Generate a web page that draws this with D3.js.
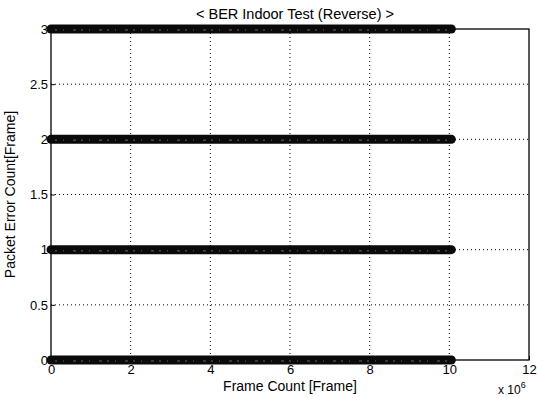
<!DOCTYPE html>
<html>
<head>
<meta charset="utf-8">
<script src="https://cdn.jsdelivr.net/npm/d3@7"></script>
<style>
  body { margin: 0; background: #fff; }
  text { font-family: "Liberation Sans", Arial, sans-serif; fill: #000; }
</style>
</head>
<body>
<svg id="chart" width="537" height="398"></svg>
<script>
// Error count levels seen over the test, and frame range (x 10^6) where each was recorded
var errorLevels = [0, 1, 2, 3];
var frameStart = [0, 0, 0, 0];
var frameEnd = [10.05, 10.05, 10.05, 10.05];

var xTicks = [0, 2, 4, 6, 8, 10, 12];
var yTicks = [0, 0.5, 1, 1.5, 2, 2.5, 3];

var svg = d3.select("#chart");
var plotL = 51, plotR = 529, plotT = 29, plotB = 360;

var x = d3.scaleLinear().domain([0, 12]).range([plotL, plotR]);
var y = d3.scaleLinear().domain([0, 3]).range([plotB, plotT]);

// dotted grid
svg.append("g").selectAll("line").data(xTicks.slice(1, -1)).enter().append("line")
  .attr("x1", d => x(d)).attr("x2", d => x(d))
  .attr("y1", plotT).attr("y2", plotB)
  .attr("stroke", "#000").attr("stroke-width", 1).attr("stroke-dasharray", "1,3");
svg.append("g").selectAll("line").data(yTicks.slice(1, -1)).enter().append("line")
  .attr("x1", plotL).attr("x2", plotR)
  .attr("y1", d => y(d)).attr("y2", d => y(d))
  .attr("stroke", "#000").attr("stroke-width", 1).attr("stroke-dasharray", "1,3");

// box
svg.append("rect").attr("x", plotL).attr("y", plotT)
  .attr("width", plotR - plotL).attr("height", plotB - plotT)
  .attr("fill", "none").attr("stroke", "#000").attr("stroke-width", 1.3);

// axes with inward ticks
var xAxis = svg.append("g").attr("transform", "translate(0," + plotB + ")")
  .call(d3.axisBottom(x).tickValues(xTicks).tickSize(-4).tickPadding(5).tickFormat(d3.format("d")));
var yAxis = svg.append("g").attr("transform", "translate(" + plotL + ",0)")
  .call(d3.axisLeft(y).tickValues(yTicks).tickSize(-4).tickPadding(3).tickFormat(d => d));
[xAxis, yAxis].forEach(function(a) {
  a.select(".domain").remove();
  a.selectAll("text").style("font-size", "13px").style("font-family", "'Liberation Sans', Arial, sans-serif");
  a.selectAll("line").attr("stroke-width", 1);
});

// dense marker bands
var bands = svg.append("g");
errorLevels.forEach(function(lv, i) {
  bands.append("line")
    .attr("x1", x(frameStart[i])).attr("x2", x(frameEnd[i]))
    .attr("y1", y(lv)).attr("y2", y(lv))
    .attr("stroke", "#0a0a0a").attr("stroke-width", 9).attr("stroke-linecap", "round");
  bands.append("line")
    .attr("x1", x(frameStart[i]) + 4).attr("x2", x(frameEnd[i]) - 4)
    .attr("y1", y(lv) + 1).attr("y2", y(lv) + 1)
    .attr("stroke", "#4a4a4a").attr("stroke-width", 1.5).attr("stroke-dasharray", "2,6,1,9,3,5");
});

// labels
svg.append("text").attr("x", 295).attr("y", 19).attr("text-anchor", "middle")
  .style("font-size", "14.5px").text("< BER Indoor Test (Reverse) >");
svg.append("text").attr("x", 290).attr("y", 391).attr("text-anchor", "middle")
  .style("font-size", "14px").text("Frame Count [Frame]");
svg.append("text").attr("transform", "translate(15," + ((plotT + plotB) / 2) + ") rotate(-90)")
  .attr("text-anchor", "middle").style("font-size", "14px").text("Packet Error Count[Frame]");
var ex = svg.append("text").attr("x", 498).attr("y", 394).style("font-size", "12px");
ex.append("tspan").text("x 10");
ex.append("tspan").attr("dy", -6).style("font-size", "9px").text("6");
</script>
</body>
</html>
